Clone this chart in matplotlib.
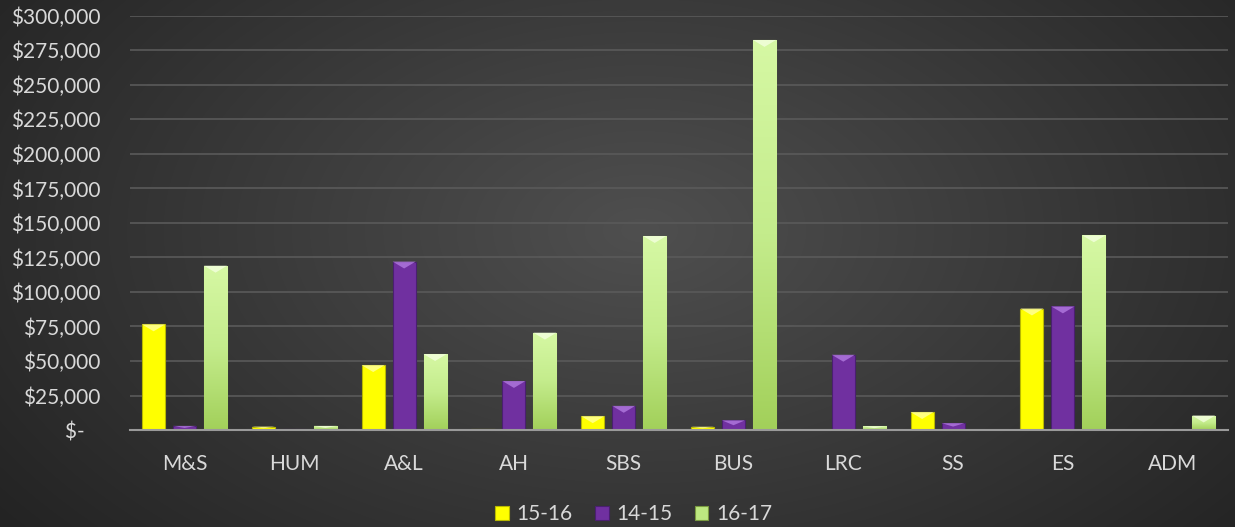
import numpy as np
import matplotlib
matplotlib.use("Agg")
import matplotlib.pyplot as plt
from matplotlib.patches import Polygon
from matplotlib.colors import LinearSegmentedColormap
from matplotlib.ticker import FuncFormatter, MultipleLocator

categories = ["M&S", "HUM", "A&L", "AH", "SBS", "BUS", "LRC", "SS", "ES", "ADM"]
series_names = ["15-16", "14-15", "16-17"]
v_15_16 = [76500, 2500, 47000, 500, 10000, 2400, 0, 13000, 88000, 0]
v_14_15 = [3000, 500, 122000, 35500, 17500, 7000, 54500, 5000, 89500, 0]
v_16_17 = [119000, 3000, 55000, 70500, 140500, 282500, 2700, 0, 141000, 10500]

colors = ["#ffff00", "#7030a0", "#bde880"]
edges = ["#b8b800", "#4a1f70", "#7a9a40"]
highlights = ["#ffffa0", "#b27ae0", "#f4ffe0"]
green_cmap = LinearSegmentedColormap.from_list("g", ["#a2d05a", "#c4ec8c", "#d6f8a4"])

plt.rcParams['font.family'] = ['Lato', 'DejaVu Sans']
text_color = "#d9d9d9"
fs = 15

fig = plt.figure(figsize=(12.35, 5.27), dpi=100)

# radial gradient background
bg = fig.add_axes([0, 0, 1, 1])
yy, xx = np.mgrid[0:527, 0:1235]
r = np.sqrt(((xx - 640) / 700.0) ** 2 + ((yy - 230) / 420.0) ** 2)
val = np.clip(0.31 - 0.15 * r, 0.14, 0.31)
img = np.dstack([val, val, val])
bg.imshow(img, aspect="auto", extent=[0, 1, 0, 1], origin="upper")
bg.axis("off")

ax = fig.add_axes([0.105, 0.184, 0.889, 0.786])
ax.patch.set_alpha(0)

x = np.arange(len(categories))
width = 0.21
offset = 0.282
all_vals = [v_15_16, v_14_15, v_16_17]
grad = np.linspace(0, 1, 256).reshape(-1, 1)
for i, vals in enumerate(all_vals):
    bars = ax.bar(x + (i - 1) * offset, vals, width, color=colors[i],
                  edgecolor=edges[i], linewidth=0.8, label=series_names[i], zorder=3)
    for b in bars:
        h = b.get_height()
        if h <= 0:
            continue
        x0 = b.get_x()
        w = b.get_width()
        if i == 2:
            im = ax.imshow(grad, cmap=green_cmap, aspect="auto", origin="lower",
                           extent=[x0, x0 + w, 0, h], zorder=3.5)
            im.set_clip_path(b)
        bev = min(h * 0.5, 5000)
        tri = Polygon([[x0, h], [x0 + w, h], [x0 + w * 0.5, h - bev]],
                      closed=True, facecolor=highlights[i], edgecolor="none",
                      alpha=0.8, zorder=4)
        ax.add_patch(tri)

ax.set_xlim(-0.5, len(categories) - 0.5)
ax.set_ylim(0, 300000)
ax.yaxis.set_major_locator(MultipleLocator(25000))


def fmt(v, pos):
    if v == 0:
        return "$-   "
    return "${:,.0f}".format(v)


ax.yaxis.set_major_formatter(FuncFormatter(fmt))
ax.set_xticks(x)
ax.set_xticklabels(categories)
ax.tick_params(axis="both", colors=text_color, labelsize=fs, length=0)
ax.tick_params(axis="x", pad=17)
ax.tick_params(axis="y", pad=21)
ax.grid(axis="y", color="#5a5a5a", linewidth=1.2, zorder=0)
for s in ["top", "right", "left"]:
    ax.spines[s].set_visible(False)
ax.spines["bottom"].set_color("#9a9a9a")
ax.spines["bottom"].set_linewidth(1.5)
ax.spines["bottom"].set_zorder(5)

leg = fig.legend(loc="lower center", bbox_to_anchor=(0.513, -0.03), ncol=3, frameon=False,
                 fontsize=fs, handlelength=0.65, handleheight=0.65, handletextpad=0.35,
                 columnspacing=1.1)
for t in leg.get_texts():
    t.set_color(text_color)

fig.savefig("out.png", dpi=100)
